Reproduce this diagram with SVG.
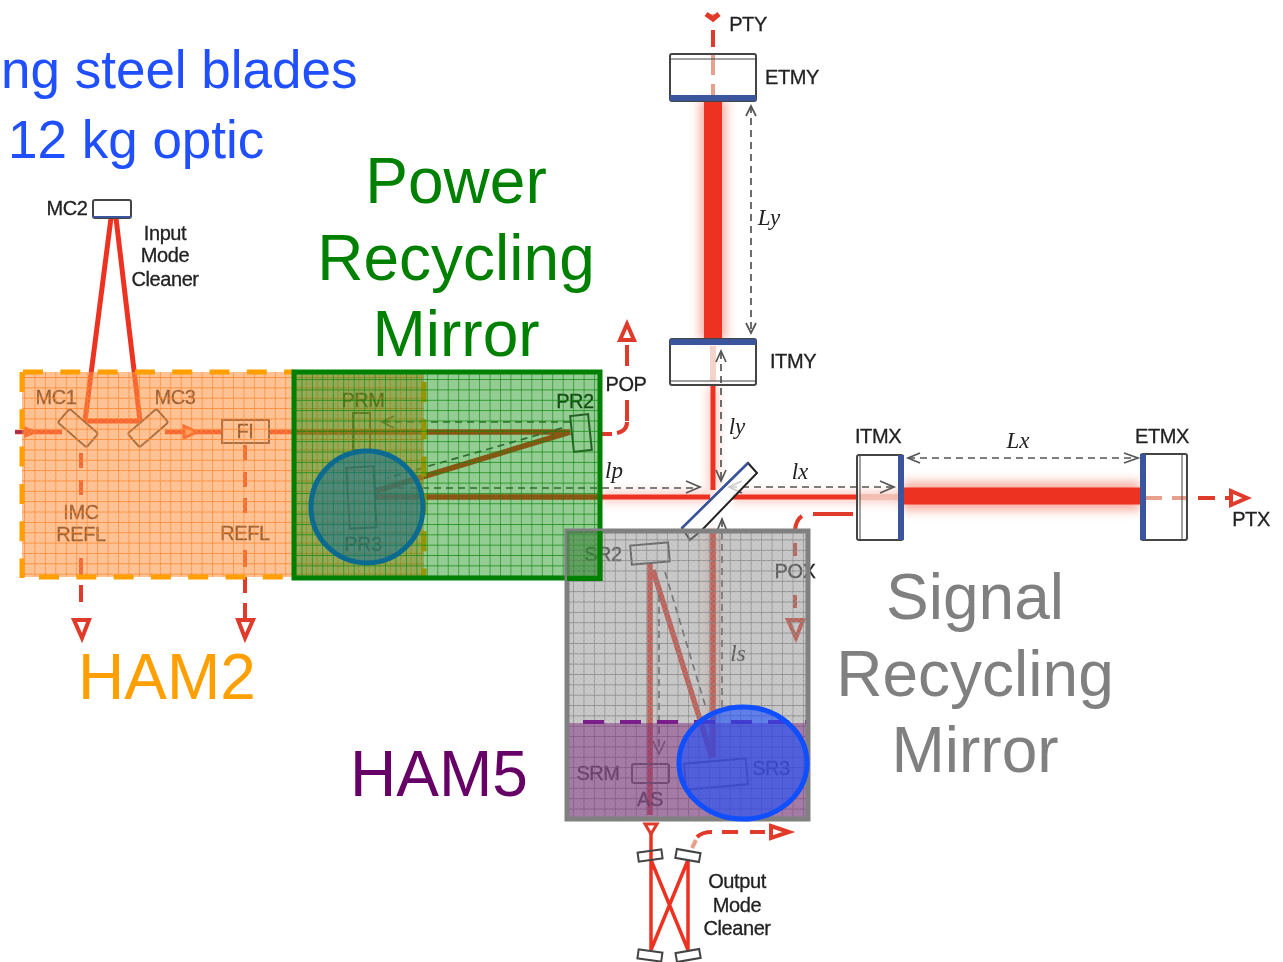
<svg xmlns="http://www.w3.org/2000/svg" width="1283" height="962" viewBox="0 0 1283 962">
<style>
text{font-family:"Liberation Sans",Arial,sans-serif}
.l{font-size:20px;fill:#222;stroke:#222;stroke-width:.3;text-anchor:middle;letter-spacing:-.4px}
.i{font-family:"Liberation Serif","Times New Roman",serif;font-style:italic;font-size:23px;fill:#222;text-anchor:middle}
.big{font-size:64px;text-anchor:middle}
.blue{font-size:53px;fill:#1f4fff}
.beam{fill:none;stroke:#ee3322;stroke-width:5}
.glow{fill:none;stroke:#f04a30;opacity:.4}
.pick{fill:none;stroke:#e03a2c;stroke-width:4}
.pale{fill:none;stroke:#e8a08c;stroke-width:4}
.head{fill:#fff;stroke:#e03a2c;stroke-width:4}
.dim{fill:none;stroke:#555;stroke-width:1.7;stroke-dasharray:7 5}
.arr{fill:none;stroke:#555;stroke-width:1.7}
.opt{fill:#fff;stroke:#444;stroke-width:2}
.hol{fill:none;stroke:#444;stroke-width:2}
.hr{fill:#3a559c}
</style>
<defs>
<filter id="soft" x="-20%" y="-20%" width="140%" height="140%"><feGaussianBlur stdDeviation=".6"/></filter>
<filter id="halo" x="-30%" y="-30%" width="160%" height="160%"><feGaussianBlur stdDeviation="5"/></filter>
<pattern id="fine" width="5" height="5" patternUnits="userSpaceOnUse"><rect width="2.5" height="2.5" fill="#fff" fill-opacity=".1"/><rect x="2.5" y="2.5" width="2.5" height="2.5" fill="#fff" fill-opacity=".1"/></pattern>
<pattern id="go" width="10.45" height="10.35" patternUnits="userSpaceOnUse" x="24" y="377"><path d="M0 0V10.35M0 0H10.45" stroke="#ff7a1a" stroke-width="1.2" fill="none"/></pattern>
<pattern id="gg" width="10.45" height="10.35" patternUnits="userSpaceOnUse" x="437.3" y="503.3"><path d="M0 0V10.35M0 0H10.45" stroke="#0a860a" stroke-width="1.2" fill="none"/></pattern>
<pattern id="gy" width="10.45" height="10.35" patternUnits="userSpaceOnUse" x="750.7" y="653.3"><path d="M0 0V10.35M0 0H10.45" stroke="#7d7d7d" stroke-width="1.2" fill="none"/></pattern>
</defs>

<g id="connectors">
<g filter="url(#halo)">
<path class="glow" d="M713 100V340" style="stroke-width:28"/>
<path class="glow" d="M903 496H1140" style="stroke-width:30"/>
<path class="glow" d="M713 386V490M600 497H712M733 497H1140M713 530V757" style="stroke-width:10;opacity:.3"/>
</g>
<g filter="url(#soft)">
<path class="beam" d="M713 100V340" style="stroke-width:18"/>
<path class="beam" d="M903 496H1140" style="stroke-width:17"/>
<path class="beam" d="M713 386V490M600 497H710M733 497H857"/>
<path class="beam" d="M376 497H600M294 432H570L376 491" style="stroke-width:5.5"/>
<path class="beam" d="M15 432H62M165 432H222M269 432H294" style="stroke-width:4.5"/>
<path class="beam" d="M85 421L111 218M140 421L116 218M85 421H140" style="stroke-width:5"/>
<path class="beam" d="M650 564V815M653 570L712 758M713 531V757" style="stroke-width:5.5"/>
<path class="beam" d="M651 832V860M651 860V950M688 860V950M651 860L688 950M688 860L651 950" style="stroke-width:3.5"/>
<path class="pale" d="M713 55V75M713 84V96M1146 498H1162M1172 498H1188M692 848L696 840"/>
<path class="pale" d="M713 346V381M860 497H898" style="stroke-width:6;opacity:.45"/>
<path class="pick" d="M713 30V47M1198 498H1215M1225 498H1232"/>
<path class="head" d="M706 14L713 19L719 14" style="stroke-width:5;fill:#f6a090"/>
<path class="head" d="M1231 491L1247 498L1231 505Z"/>
<path class="pick" d="M627 345V366M627 400V421M602 434H612M617 433Q627 431 627 422"/>
<path class="head" d="M627 324L620 340H634Z"/>
<path class="pick" d="M853 514H813M802 516Q796 520 795 530M795 543V556M795 595V608"/>
<path class="head" d="M788 620H803L796 638Z"/>
<path class="pick" d="M81 453V468M81 480V495M81 558V575M81 585V602"/>
<path class="head" d="M74 620H89L82 638Z"/>
<path class="pick" d="M245 445V460M245 472V487M245 498V513M245 550V567M245 577V593M245 603V618"/>
<path class="head" d="M238 620H253L245 638Z"/>
<path class="pick" d="M697 837Q702 832 712 832M722 832H738M750 832H765"/>
<path class="head" d="M771 826L789 832L771 838Z"/>
<path class="head" d="M645 824H657L651 834Z" style="stroke-width:3"/>
<path d="M15 432H30" stroke="#a03050" stroke-width="3"/>
<path d="M24 426L39 432L24 438Z" fill="#ee4422"/>
<path d="M184 426L197 432L184 438Z" fill="#ffb080" stroke="#ee4422" stroke-width="3"/>
</g>
<path class="dim" d="M751 106V333"/>
<path class="arr" d="M746 116L751 106L756 116M746 323L751 333L756 323"/>
<path class="dim" d="M721 352V480"/>
<path class="arr" d="M716 362L721 351L726 362M716 470L721 481L726 470"/>
<path class="dim" d="M722 520V712"/>
<path class="arr" d="M717 531L722 519L727 531"/>
<path class="dim" d="M374 488H698"/>
<path class="arr" d="M686 481L700 487L686 493"/>
<path class="dim" d="M730 487H892"/>
<path class="arr" d="M742 481L729 487L742 493M880 481L894 487L880 493"/>
<path class="dim" d="M908 458H1136"/>
<path class="arr" d="M920 453L908 458L920 463M1124 453L1138 458L1124 463"/>
<path class="dim" d="M570 422H382M562 428L387 478"/>
<path class="arr" d="M394 416L382 422L394 428"/>
<path class="dim" d="M665 572L706 708M659 595V750"/>
<path class="arr" d="M653 741L659 754L665 741"/>
</g>

<g id="optics">
<g id="ETMY"><rect class="hol" x="670" y="54" width="86" height="47" rx="2"/><path d="M670 59H756" stroke="#444"/><rect class="hr" x="670" y="95" width="86" height="6"/></g>
<g id="ITMY"><rect class="hol" x="670" y="339" width="86" height="46" rx="2"/><path d="M670 381H756" stroke="#444"/><rect class="hr" x="670" y="339" width="86" height="6"/></g>
<g id="ITMX"><rect class="hol" x="857" y="455" width="46" height="85" rx="2"/><path d="M860 455V540" stroke="#444"/><rect class="hr" x="898" y="455" width="6" height="85"/></g>
<g id="ETMX"><rect class="hol" x="1141" y="454" width="46" height="86" rx="2"/><path d="M1182 454V540" stroke="#444"/><rect class="hr" x="1140" y="454" width="6" height="86"/></g>
<g id="BS"><path d="M682 528L748 463L757 473L702 530L690 540Z" fill="#fff" fill-opacity=".7" stroke="#222" stroke-width="2"/><path d="M682 528L748 463" stroke="#3a559c" stroke-width="2.5"/></g>
<g id="MC2"><rect class="opt" x="93" y="200" width="38" height="18" rx="2"/><path d="M93 217H131" stroke="#3a559c" stroke-width="2"/></g>
<g id="MC1"><rect class="hol" x="59" y="419" width="38" height="18" rx="2" transform="rotate(41 78 428)"/></g>
<g id="MC3"><rect class="hol" x="129" y="419" width="38" height="18" rx="2" transform="rotate(-41 148 428)"/></g>
<g id="FI"><rect class="hol" x="222" y="420" width="47" height="23"/><text class="l" x="245" y="438">FI</text></g>
<g id="PRM"><rect class="hol" x="353" y="413" width="17" height="37"/></g>
<g id="PR2"><rect class="hol" x="572" y="415" width="18" height="36" transform="rotate(-6 581 433)"/></g>
<g id="PR3"><rect class="hol" x="348" y="467" width="27" height="61" transform="rotate(-3 361 498)"/></g>
<g id="SR2"><rect class="opt" x="631" y="544" width="38" height="19" transform="rotate(-5 650 554)"/></g>
<g id="SRM"><rect class="hol" x="632" y="764" width="37" height="19" rx="2"/></g>
<g id="SR3"><rect class="hol" x="685" y="761" width="62" height="26" transform="rotate(-5 716 775)"/></g>
<g id="OMC"><rect class="opt" x="638" y="851" width="24" height="9" transform="rotate(-8 650 855)" style="fill:none"/><rect class="opt" x="676" y="851" width="24" height="9" transform="rotate(10 688 855)" style="fill:none"/><rect class="opt" x="638" y="951" width="24" height="9" transform="rotate(8 650 955)"/><rect class="opt" x="676" y="951" width="24" height="9" transform="rotate(-10 688 955)"/></g>
</g>

<g id="labels">
<text class="l" x="67" y="215">MC2</text>
<text class="l" x="165" y="240">Input</text><text class="l" x="165" y="262">Mode</text><text class="l" x="165" y="286">Cleaner</text>
<text class="l" x="56" y="404">MC1</text><text class="l" x="175" y="404">MC3</text>
<text class="l" x="81" y="519">IMC</text><text class="l" x="81" y="541">REFL</text><text class="l" x="245" y="540">REFL</text>
<text class="l" x="363" y="407">PRM</text><text class="l" x="575" y="408">PR2</text><text class="l" x="363" y="551">PR3</text>
<text class="l" x="626" y="391">POP</text><text class="l" x="748" y="31">PTY</text><text class="l" x="792" y="84">ETMY</text>
<text class="l" x="793" y="368">ITMY</text><text class="l" x="878" y="443">ITMX</text><text class="l" x="1162" y="443">ETMX</text>
<text class="l" x="1251" y="526">PTX</text><text class="l" x="603" y="561">SR2</text><text class="l" x="795" y="578">POX</text>
<text class="l" x="598" y="780">SRM</text><text class="l" x="650" y="806">AS</text><text class="l" x="771" y="775">SR3</text>
<text class="l" x="737" y="888">Output</text><text class="l" x="737" y="912">Mode</text><text class="l" x="737" y="935">Cleaner</text>
<text class="i" x="769" y="225">Ly</text><text class="i" x="737" y="434">ly</text><text class="i" x="614" y="478">lp</text><text class="i" x="800" y="479">lx</text><text class="i" x="1018" y="448">Lx</text><text class="i" x="738" y="661">ls</text>
</g>

<g id="HAM2-box">
<rect x="22" y="372" width="402" height="205" fill="#ff8a33" fill-opacity=".55"/>
<rect x="22" y="372" width="402" height="205" fill="url(#go)"/>
<rect x="22" y="372" width="402" height="205" fill="url(#fine)"/>
<g fill="none" stroke="#ffa000" stroke-width="5" stroke-dasharray="20 17.3">
<path d="M23 372H294"/><path d="M22 372V578"/><path d="M39 577H294"/><path d="M424 382V576"/>
</g>
</g>
<g id="PR-box">
<rect x="294" y="372" width="306" height="206" fill="#008800" fill-opacity=".42"/>
<rect x="294" y="372" width="306" height="206" fill="url(#gg)"/>
<rect x="294" y="372" width="306" height="206" fill="none" stroke="#008000" stroke-width="5"/>
</g>
<g id="SR-box">
<rect x="567" y="531" width="241" height="288" fill="#8a8a8a" fill-opacity=".5"/>
<rect x="567" y="531" width="241" height="288" fill="url(#gy)"/>
<rect x="567" y="531" width="241" height="288" fill="url(#fine)"/>
</g>
<g id="HAM5-box">
<rect x="567" y="723" width="241" height="96" fill="#7a1f7a" fill-opacity=".45"/>
<path d="M583 722H808" stroke="#7a1f8a" stroke-width="4" stroke-dasharray="21 16" fill="none"/>
</g>
<rect x="567" y="531" width="241" height="288" fill="none" stroke="#808080" stroke-width="5"/>
<rect x="567" y="531" width="33" height="47" fill="#008800" fill-opacity=".35"/>
<path d="M567 578.5H600" stroke="#008000" stroke-width="5"/><path d="M600 531V581" stroke="#008000" stroke-width="5"/>
<g id="PR3-mark"><circle cx="367" cy="507" r="56" fill="#0e6a99" fill-opacity=".5" stroke="#0b6a8f" stroke-width="5"/></g>
<g id="SR3-mark"><ellipse cx="743" cy="763" rx="64" ry="56" fill="#1a4fff" fill-opacity=".6" stroke="#0f4fff" stroke-width="5"/></g>

<g id="headings">
<text class="blue" x="1" y="88">ng steel blades</text>
<text class="blue" x="8" y="158">12 kg optic</text>
<g class="big" fill="#008000"><text x="456" y="203">Power</text><text x="456" y="280">Recycling</text><text x="456" y="356">Mirror</text></g>
<g class="big" fill="#808080"><text x="975" y="619">Signal</text><text x="975" y="696">Recycling</text><text x="975" y="772">Mirror</text></g>
<text class="big" x="167" y="699" fill="#ffa000">HAM2</text>
<text class="big" x="439" y="796" fill="#660066">HAM5</text>
</g>
</svg>
